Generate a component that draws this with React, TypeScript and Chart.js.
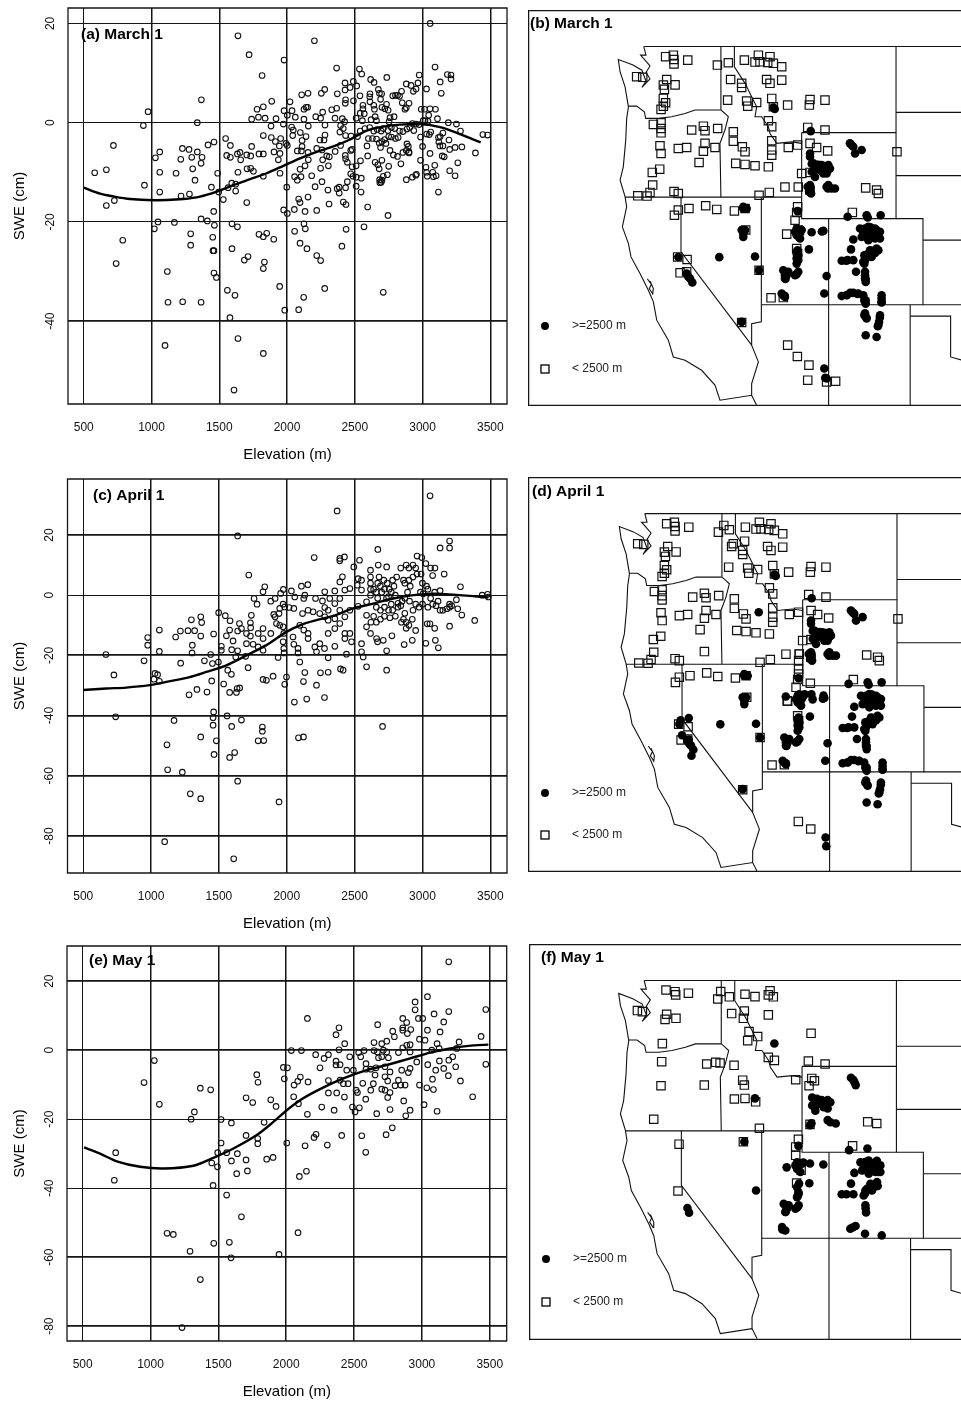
import React, { useEffect, useRef } from "react";
import { Chart, registerables } from "chart.js";

Chart.register(...registerables);

type P = number[];

const elevationTicks = [500, 1000, 1500, 2000, 2500, 3000, 3500];
const marchTicks = [20, 0, -20, -40];
const aprilTicks = [20, 0, -20, -40, -60, -80];
const mayTicks = [20, 0, -20, -40, -60, -80];
const marchSwe: P[] = [[581,-10.1],[667,-9.5],[719,-4.6],[667,-16.7],[726,-15.7],[788,-23.7],[739,-28.4],[940,-0.6],[975,2.2],[948,-12.6],[1029,-7.1],[1061,-5.9],[1061,-10],[1061,-14],[1021,-21.4],[1048,-20],[1117,-30],[1122,-36.2],[1100,-44.9],[1169,-20.1],[1181,-10.2],[1230,-36.1],[1216,-7.4],[1228,-5.2],[1218,-14.8],[1277,-5.4],[1280,-14.4],[1289,-22.4],[1289,-24.7],[1304,-9.3],[1297,-7],[1321,-11.6],[1338,0],[1368,4.6],[1338,-5.9],[1373,-7],[1366,-8.2],[1366,-19.4],[1366,-36.2],[1412,-19.8],[1417,-4.5],[1461,-3.9],[1442,-13],[1459,-17.9],[1464,-20.7],[1452,-23.1],[1454,-25.8],[1461,-25.8],[1461,-30.3],[1479,-31.2],[1488,-10.2],[1496,-14],[1530,-15.5],[1547,-3.2],[1555,-6.6],[1582,-4.6],[1582,-7],[1560,-33.8],[1579,-39.3],[1592,-12.2],[1565,-13.1],[1621,-12.4],[1621,-13.8],[1594,-20.4],[1634,-21],[1594,-25.4],[1616,-34.8],[1638,-43.5],[1609,-53.9],[1638,17.5],[1638,-10],[1634,-6.3],[1653,-6],[1658,-7.5],[1703,-6.5],[1703,-16.1],[1685,-27.7],[1712,-27],[1720,13.7],[1705,-9.3],[1732,-9.2],[1752,-9.8],[1739,-4.8],[1732,-6.7],[1739,0.7],[1779,2.7],[1789,1.1],[1816,9.5],[1825,3.2],[1838,0.9],[1825,-2.6],[1825,-6.3],[1793,-6.3],[1825,-10.8],[1793,-22.5],[1825,-23],[1850,-22.3],[1902,-23.5],[1833,-28.1],[1825,-29.4],[1825,-46.5],[1887,4.3],[1882,-0.7],[1919,0.8],[1884,-3],[1914,-3.8],[1904,-5.9],[1943,-4.7],[1948,-6.2],[1936,-7.5],[1948,-10.2],[1946,-33],[1973,-0.3],[1978,12.6],[1978,2.4],[1953,-3.2],[1992,-4.2],[2002,-4.6],[1998,-13],[1975,-17.6],[2002,-18.3],[1983,-37.8],[2022,4.2],[2037,2.4],[2002,1.5],[2061,1.1],[2034,-0.9],[2042,-2.6],[2046,-1.5],[2056,-10.9],[2076,-11.6],[2054,-17.5],[2056,-21.9],[2086,-15.4],[2096,-16.1],[2076,-5.7],[2106,-5.7],[2096,-9.4],[2103,-10.9],[2096,-24.3],[2086,-37.7],[2108,5.6],[2155,5.9],[2125,2.7],[2140,3.1],[2152,3.1],[2125,0.7],[2157,-0.7],[2098,-2],[2140,-2.8],[2111,-3.6],[2111,-4.8],[2155,-6],[2157,-7.5],[2133,-8.7],[2133,-17.9],[2155,-15],[2125,-20.4],[2135,-21.4],[2147,-25.4],[2123,-35.2],[2202,16.5],[2212,1.2],[2248,0.9],[2253,5.9],[2278,6.7],[2263,2.1],[2280,-0.5],[2243,-3.5],[2280,-2.5],[2273,-3.5],[2219,-5.2],[2258,-5.5],[2263,-7.5],[2182,-10.7],[2248,-9.2],[2207,-12.9],[2258,-11.9],[2305,-8.7],[2293,-6.7],[2312,-6.9],[2219,-17.7],[2302,-13.6],[2310,-16.4],[2219,-26.8],[2248,-27.8],[2278,-33.4],[2366,11],[2428,8],[2428,6.6],[2465,7.1],[2489,8.3],[2514,7.4],[2534,10.8],[2551,9.8],[2617,8.7],[2642,8.1],[2736,9.1],[2674,6.7],[2612,5.8],[2698,5.8],[2538,5.4],[2432,4.6],[2490,4.4],[2430,3.9],[2371,5.8],[2330,2.6],[2366,2.9],[2354,0.9],[2408,0.8],[2425,0.2],[2395,-0.6],[2415,-1.2],[2390,-1.9],[2432,-2.6],[2472,-2.7],[2395,-4.6],[2355,-5.8],[2430,-6.6],[2432,-7.3],[2445,-8],[2470,-5.6],[2480,-5.4],[2560,3.5],[2560,2.8],[2570,1.8],[2540,1.9],[2510,0.9],[2556,0.4],[2620,0.6],[2610,5.2],[2612,4.2],[2640,3.5],[2645,2.7],[2650,1.2],[2660,0.4],[2682,5.9],[2690,4.7],[2700,3.1],[2722,2.8],[2734,3.7],[2746,2.5],[2760,1],[2753,0.2],[2790,1.2],[2800,5.5],[2780,5.4],[2830,5.3],[2815,5.5],[2845,6.3],[2850,4],[2870,2.7],[2880,3],[2900,3.9],[2880,7.8],[2915,7.5],[2932,6.3],[2952,6.8],[2966,8],[2975,9.6],[3029,6.8],[3092,11.2],[3138,5.9],[3130,8.2],[3183,9.7],[3210,9.6],[3210,8.8],[3056,20],[2990,2.7],[3015,2.7],[3055,2.8],[3045,1.5],[3005,0.4],[3018,0.4],[3040,0.3],[3110,0.8],[3095,2.7],[3190,0],[3250,-0.3],[3280,-1.7],[2950,-0.3],[2925,-0.2],[2975,-0.4],[2905,-1],[2935,-1.6],[2885,-1.3],[2855,-1.8],[2830,-1.7],[2795,-1.2],[2770,-1],[2745,-1.6],[2710,-1.2],[2695,-1.7],[2665,-1.4],[2640,-1.7],[2610,-1],[2575,-1.2],[2540,-1.7],[2520,-2.8],[2600,-3.2],[2630,-3.2],[2660,-3.3],[2680,-4.1],[2700,-3.8],[2720,-3.4],[2750,-2.8],[2770,-2.9],[2800,-3.2],[2820,-3],[2590,-4.7],[2690,-5],[2730,-4.2],[2885,-4.3],[2895,-4.8],[2880,-5.6],[2900,-5.9],[2900,-6.1],[2855,-6],[2760,-5.6],[2785,-6.5],[2815,-6.8],[2595,-6.7],[2650,-8],[2700,-7.6],[2680,-9.3],[2670,-8.5],[2840,-8.3],[2542,-7.7],[2510,-8.7],[2480,-8.9],[2470,-10.3],[2487,-10.8],[2510,-11],[2548,-11.2],[2700,-11.6],[2710,-10.8],[2740,-10.5],[2750,-8.8],[2695,-12],[2683,-11.5],[2685,-12.1],[2880,-11.5],[2925,-11],[2950,-10.6],[2955,-10.4],[2510,-12.8],[2546,-14],[2595,-17],[2745,-18.7],[2568,-21],[2710,-34.2],[2445,-11.9],[2432,-13.1],[2385,-13],[2370,-13.3],[2385,-14.2],[2415,-16],[2435,-16.5],[2436,-21.5],[2405,-24.9],[2985,-2.9],[3030,-2.3],[3050,-2.4],[3060,-1.9],[3117,-3],[3120,-3.9],[3128,-4.7],[3150,-4.7],[3130,-2.8],[3150,-2.1],[3195,-3.5],[3200,-5.4],[3240,-5],[3290,-4.9],[3390,-6.1],[3445,-2.4],[3480,-2.5],[3260,-8.1],[3200,-9.7],[3240,-10.7],[3145,-6.7],[3055,-6.2],[3090,-8.6],[3160,-6.9],[3075,-10],[3080,-10.9],[3100,-10.7],[3025,-9],[3030,-10],[3035,-10.8],[3117,-14],[3000,-4.8],[2985,-7.6]];
const marchFit: P[] = [[500,-13.1],[620,-14.3],[726,-14.9],[842,-15.4],[965,-15.6],[1112,-15.6],[1235,-15.4],[1358,-14.9],[1481,-13.9],[1604,-12.6],[1727,-11.4],[1850,-10.2],[1973,-8.7],[2096,-7.2],[2219,-5.9],[2342,-4.8],[2465,-3.4],[2588,-1.6],[2711,-0.8],[2834,-0.4],[2981,-0.3],[3129,-0.9],[3276,-2.3],[3429,-4]];

const aprilSwe: P[] = [[667,-19.7],[726,-26.5],[739,-40.4],[948,-21.8],[975,-14.1],[975,-16.6],[1029,-26],[1048,-26.4],[1021,-27.9],[1061,-28.6],[1061,-11.6],[1061,-18.7],[1100,-81.9],[1117,-49.7],[1122,-58],[1169,-41.6],[1181,-13.9],[1216,-11.9],[1218,-22.6],[1230,-58.8],[1272,-11.8],[1280,-33.1],[1289,-66],[1304,-16.6],[1302,-19.2],[1297,-8.2],[1321,-11.8],[1338,-31.3],[1366,-7.2],[1373,-9.1],[1366,-13.6],[1366,-47.1],[1366,-67.6],[1393,-21.8],[1412,-32.2],[1439,-19.7],[1452,-22.7],[1461,-12.9],[1447,-28.5],[1461,-38.8],[1457,-40.7],[1457,-43.2],[1464,-52.9],[1481,-48.4],[1496,-22.2],[1498,-5.8],[1518,-17],[1518,-18.3],[1535,-29.5],[1547,-6.8],[1555,-13.5],[1582,-8.5],[1579,-11.6],[1604,-15.2],[1565,-24.9],[1592,-26.3],[1594,-18.1],[1579,-32.3],[1560,-40.1],[1594,-43.6],[1579,-53.9],[1616,-52.3],[1638,19.7],[1638,-61.8],[1624,-20.5],[1638,-18.5],[1634,-31],[1629,-32.3],[1653,-30.8],[1609,-87.6],[1666,-41.5],[1638,-11.9],[1651,-9.4],[1666,-11.1],[1703,-12.7],[1703,-16.1],[1715,-24.1],[1720,6.7],[1732,-13.6],[1732,-9.2],[1734,-10.8],[1739,-6.7],[1752,-16.3],[1697,-20.3],[1759,-1.1],[1781,-3],[1789,-12.7],[1789,-17.2],[1789,-48.4],[1830,-48.3],[1825,1.1],[1838,2.8],[1825,-11.1],[1825,-14.4],[1825,-18.3],[1825,-28],[1850,-28.3],[1820,-43.8],[1820,-45.2],[1882,-12.7],[1899,-26.9],[1943,-68.7],[1936,-20.7],[1882,-2],[1914,-1.1],[1904,-6.4],[1914,-7.2],[1924,-9.4],[1948,-10],[1948,-4.4],[1943,-6.1],[1975,1.9],[1955,0.6],[1973,-3],[1985,-3.9],[1973,-10.5],[1978,-12.7],[1973,-15.5],[1978,-17.7],[1980,-19.2],[1985,-29.6],[1998,-27.2],[2056,-35.5],[2034,1.4],[2059,-0.6],[2017,-4.1],[2052,-4.4],[2046,-13.9],[2052,-16.3],[2083,-17.7],[2083,-19.2],[2096,-22.2],[2086,-47.4],[2123,-47.1],[2108,3],[2155,3.5],[2133,0],[2125,-1.1],[2116,-6.1],[2096,-10],[2125,-11.6],[2157,-12.7],[2157,-14.4],[2133,-25.7],[2123,-28.7],[2147,-34.5],[2202,12.5],[2212,-1.1],[2157,-5],[2194,-5.5],[2207,-17.2],[2219,-18.8],[2243,-16.1],[2248,-25.8],[2219,-29.9],[2278,-34],[2278,-17.7],[2305,-20.8],[2305,-25.6],[2280,1.1],[2263,-1.9],[2280,-4.1],[2243,-6.1],[2280,-7.2],[2317,-1.1],[2305,-5],[2305,-8.3],[2305,-12.7],[2354,-17],[2371,28],[2391,12.2],[2391,11.4],[2425,12.7],[2410,6.1],[2391,4.4],[2354,1.4],[2354,-2.8],[2391,-1.1],[2428,1.7],[2465,2.2],[2391,-5],[2354,-7.8],[2391,-9.4],[2428,-7.2],[2465,-5],[2354,-11.1],[2428,-12.7],[2428,-14.4],[2465,-12.7],[2477,-15.5],[2440,-19.6],[2396,-24.5],[2415,-24.9],[2494,9.4],[2536,11.6],[2526,5.5],[2551,5],[2519,3.3],[2551,1.7],[2588,-2.2],[2526,-3.7],[2551,-16.1],[2551,-18.8],[2563,-20.5],[2588,-23.8],[2588,-6.7],[2588,-10.5],[2617,-12.7],[2662,-14.4],[2669,-15.5],[2711,-15],[2736,-18.5],[2736,-24.9],[2706,-43.6],[2671,15.2],[2617,8.3],[2674,10],[2736,9.4],[2617,6],[2617,4],[2617,2],[2617,0],[2640,2],[2660,1],[2670,4],[2680,6],[2670,-1],[2690,3],[2700,1],[2715,5],[2720,2],[2735,-1],[2740,4],[2755,2],[2770,1],[2780,5],[2790,3],[2800,0],[2810,6],[2770,-3],[2750,-5],[2720,-4],[2690,-5],[2660,-4],[2640,-7],[2620,-9],[2660,-9],[2690,-8],[2720,-7],[2760,-7.5],[2780,-5],[2820,-4],[2850,-2],[2870,-1],[2890,1],[2910,3],[2870,4],[2860,5],[2840,9],[2880,10],[2900,9],[2930,10],[2950,9],[2960,13],[2995,12.5],[3025,10.5],[3060,9],[3092,9],[2990,7],[2960,7],[2930,6],[2900,5],[3000,4],[3030,3],[3075,6.5],[3160,7],[3130,15.7],[3200,15.7],[3200,18],[3056,33],[3090,1],[3130,1.5],[3280,2.8],[3440,0],[3480,0.3],[3485,-0.6],[3250,-1.5],[3200,-3],[3200,-4],[3215,-3.5],[3150,-5],[3130,-5],[3115,-2],[3075,-3],[3040,-4],[3000,-3],[2975,-4],[2950,-3],[2930,-5],[2925,-8],[2900,-10],[2880,-9],[2860,-8],[2845,-9],[2880,-11],[2865,-16.4],[2925,-15],[2950,-11.7],[3025,-16],[3095,-15],[3117,-17.5],[3090,-11],[3055,-9.5],[3035,-9.5],[3200,-10.3],[3260,-4.5],[3290,-6.6],[3385,-8.4],[3180,-4.5],[2775,-13.5],[2840,-3.5],[2905,-2],[3005,0.5],[3040,2],[2985,1],[3060,-1],[3100,-3.5],[2870,-6],[2800,-7],[2820,-2.7],[2750,-0.5]];
const aprilFit: P[] = [[500,-31.5],[670,-31],[817,-30.7],[989,-29.9],[1112,-28.8],[1284,-27.2],[1407,-25.5],[1555,-23.3],[1702,-20],[1850,-16.6],[1998,-12.2],[2096,-10],[2219,-8.3],[2342,-6.9],[2489,-4.4],[2637,-2.8],[2784,-1.1],[2932,0],[3079,0.5],[3227,0.2],[3375,-0.3],[3485,-0.8]];

const maySwe: P[] = [[733,-37.7],[743,-29.7],[952,-9.4],[1028,-3],[1065,-15.7],[1122,-53.1],[1168,-53.4],[1232,-80.4],[1291,-58.3],[1299,-20],[1323,-17.9],[1367,-11],[1367,-66.5],[1443,-11.5],[1451,-32.7],[1461,-39.2],[1466,-56],[1493,-33.8],[1495,-29.7],[1520,-20.1],[1520,-26.9],[1561,-42],[1561,-29.7],[1581,-55.7],[1593,-60.2],[1596,-21.1],[1596,-32.1],[1635,-35.8],[1640,-30],[1670,-48.3],[1704,-13.8],[1704,-24.7],[1704,-31.8],[1714,-35],[1753,-15.2],[1783,-7.1],[1792,-9.3],[1790,-25.6],[1790,-27.1],[1837,-20.9],[1856,-31.6],[1903,-31.1],[1886,-14.4],[1925,-16.3],[1947,-59.2],[1979,-5],[2009,-5.1],[1986,-8.3],[2004,-26.9],[2038,-0.1],[2112,-0.1],[2058,-10.1],[2085,-9],[2104,-7.8],[2055,-13.5],[2090,-15.5],[2087,-52.9],[2097,-36.6],[2139,-27.7],[2149,-35.1],[2156,9.2],[2161,-9.2],[2156,-18.6],[2205,-25.3],[2220,-24.4],[2217,-1.3],[2249,-5.1],[2262,-16.5],[2279,-2.4],[2311,-1.3],[2303,-27.5],[2311,-8.8],[2311,-12.4],[2353,-17.4],[2367,4.5],[2389,6.5],[2389,0.1],[2367,-3.2],[2367,-4.3],[2397,-4.2],[2372,-12.4],[2397,-8.7],[2409,-24.7],[2431,1.9],[2429,-13.6],[2421,-9.7],[2446,-5.8],[2456,-9.7],[2468,-1.9],[2495,-5.8],[2488,-16.5],[2507,-17.9],[2515,-11.6],[2525,-12.3],[2539,-16.7],[2534,-0.7],[2549,-1.9],[2564,-9.6],[2557,-24.8],[2586,-29.6],[2574,-0.1],[2588,-3.9],[2588,-5.5],[2586,-14.2],[2623,-5.5],[2623,-11.6],[2642,-9.7],[2647,2.2],[2647,-0.1],[2655,-7.2],[2662,-5.1],[2667,-18.4],[2674,7.4],[2672,-0.5],[2680,-2.2],[2704,-1.9],[2704,-11.3],[2716,0],[2704,1.9],[2741,2.6],[2728,-4.8],[2728,-7.7],[2741,-0.5],[2753,-2.2],[2736,-24.5],[2728,-11.6],[2748,-8.9],[2748,-13.7],[2765,-6.3],[2765,-12.3],[2765,-17.2],[2782,-22.5],[2785,5.5],[2797,3.9],[2802,-10.3],[2827,-8.7],[2827,-0.7],[2851,-5.8],[2844,-10.1],[2859,9.2],[2859,6.5],[2859,0.7],[2866,-14.7],[2859,5.8],[2876,-10.1],[2881,-19],[2888,8],[2893,4.8],[2888,1.4],[2900,-6.5],[2913,-17.4],[2918,6],[2913,-0.5],[2913,-5.3],[2913,1.6],[2950,14],[2950,11.7],[2974,9.2],[3006,9.2],[2982,3.2],[2982,-10.1],[2962,-3.4],[3016,-15.8],[3023,2.9],[3036,-10.9],[3041,15.5],[3041,5.8],[3043,-4.2],[3073,0],[3078,-8.4],[3085,-11.4],[3090,10.5],[3102,-5.8],[3112,1.9],[3112,-17.7],[3127,0.5],[3129,-3.1],[3134,5.3],[3161,8.2],[3161,-5.3],[3198,25.6],[3198,11.2],[3198,-2.9],[3195,-7.4],[3227,-1.9],[3257,0.5],[3274,2.4],[3249,-4.8],[3284,-8.9],[3374,-13.5],[3436,4],[3471,11.8],[3471,-4.1]];
const mayFit: P[] = [[510,-28.2],[628,-30],[751,-32.2],[923,-33.8],[1095,-34.3],[1316,-33.5],[1463,-31.2],[1611,-28.5],[1783,-24.6],[1905,-20.8],[2004,-17.4],[2102,-14.5],[2249,-11.3],[2421,-8.2],[2593,-5.8],[2741,-4.3],[2913,-2.4],[3060,-0.7],[3208,0.5],[3380,1.4],[3490,1.6]];

const coastline: P[] = [[-122.76,49],[-122.6,48.6],[-123.0,48.6],[-122.3,48.1],[-122.6,47.8],[-122.3,47.5],[-122.9,47.1],[-122.6,47.4],[-122.9,47.9],[-123.6,48.15],[-124.65,48.4],[-124.52,47.83],[-124.15,47.13],[-123.9,46.2],[-124.03,45.66],[-124.1,44.65],[-124.28,43.41],[-124.52,42.79],[-124.15,42.02],[-124.03,41.55],[-124.35,40.62],[-123.9,39.84],[-123.71,39.22],[-123.04,38.45],[-122.42,37.67],[-122.05,37.13],[-121.8,36.28],[-120.94,35.35],[-120.57,34.57],[-119.7,34.42],[-118.47,33.95],[-117.48,33.26],[-117.11,32.56],[-114.76,32.79],[-114.39,32.33]];
const bayArea: P[] = [[-122.5,38.2],[-122.2,37.95],[-122.35,37.75],[-122.1,37.5],[-122.05,37.75],[-122.3,38.1]];
const columbiaRiver: P[] = [[-123.9,46.23],[-123.29,46.23],[-122.72,45.97],[-122.62,45.66],[-121.68,45.66],[-120.69,45.74],[-119.7,45.89],[-118.96,46.05],[-117.06,46.05]];
const idahoWest: P[] = [[-117.04,49],[-117.04,46.05],[-116.74,45.89],[-116.49,45.74],[-116.74,45.12],[-117.11,44.5],[-117.04,42]];
const idahoEast: P[] = [[-116.04,49],[-116.04,48.06],[-115.25,47.29],[-114.76,46.67],[-114.39,46.2],[-114.51,45.74],[-114.02,45.74],[-113.52,45.27],[-113.4,44.96],[-112.9,44.5],[-111.79,44.57],[-111.05,44.5]];
const latitude42: P[] = [[-124.15,42],[-111.05,42]];
const nevadaWest: P[] = [[-120,42],[-120,39.46],[-114.76,35.12]];
const nevadaEast: P[] = [[-114.04,42],[-114.04,36.2],[-114.76,36.12],[-114.76,35.12],[-114.26,34.34],[-114.76,33.33],[-114.76,32.79]];
const wyoming: P[] = [[-111.05,45],[-104.05,45],[-104.05,41],[-111.05,41],[-111.05,45]];
const coloradoBox: P[] = [[-104.05,41],[-102.05,41],[-102.05,37],[-109.05,37],[-109.05,41]];
const latitude37: P[] = [[-114.04,37],[-109.05,37]];
const fourCornersSouth: P[] = [[-109.05,37],[-109.05,32.2]];
const newMexicoEast: P[] = [[-103,37],[-103,32.2]];
const latitude37East: P[] = [[-102.05,37],[-99,37]];
const panhandle: P[] = [[-103,36.47],[-100,36.47],[-100,34.57],[-99,34.39]];
const montanaNorth: P[] = [[-122.76,49],[-99,49]];
const montanaEast: P[] = [[-104.05,49],[-104.05,45]];
const dakotaSplit: P[] = [[-104.05,45.94],[-99,45.94]];
const dakotaSouth: P[] = [[-104.05,43],[-99,43]];
const kansasNorth: P[] = [[-102.05,40],[-99,40]];

const stateLines = [coastline, bayArea, columbiaRiver, idahoWest, idahoEast, latitude42, nevadaWest, nevadaEast, wyoming, coloradoBox, latitude37, fourCornersSouth, newMexicoEast, latitude37East, panhandle, montanaNorth, montanaEast, dakotaSplit, dakotaSouth, kansasNorth];

const sharedSquares: P[] = [[-121.14,48.53],[-120.57,48.6],[-120.52,48.4],[-120.52,48.19],[-119.5,48.37],[-123.29,47.6],[-122.84,47.57],[-121.06,47.47],[-121.31,47.21],[-121.23,47.01],[-120.44,47.22],[-121.31,46.59],[-121.14,46.39],[-121.48,46.08],[-121.31,46.23],[-117.3,48.14],[-116.49,48.25],[-115.3,48.37],[-114.51,48.28],[-114.26,48.6],[-114.14,48.29],[-113.57,48.26],[-113.4,48.53],[-113.15,48.22],[-112.53,48.06],[-116.32,47.47],[-115.5,47.29],[-115.5,47.1],[-113.65,47.47],[-113.4,47.29],[-112.53,47.44],[-116.54,46.51],[-115.13,46.47],[-115.05,46.23],[-114.39,46.4],[-113.27,46.59],[-113.15,46.2],[-112.09,46.28],[-110.43,46.54],[-110.48,46.28],[-109.32,46.51],[-110.6,45.24],[-109.32,45.12],[-122.05,45.38],[-121.48,45.46],[-121.48,45.19],[-121.48,44.99],[-119.21,45.12],[-118.34,45.3],[-118.22,45.09],[-117.28,45.19],[-116.12,45.04],[-116.12,44.6],[-113.52,45.55],[-113.27,45.27],[-113.27,44.62],[-113.27,44.19],[-113.27,43.95],[-112.04,44.31],[-111.35,44.42],[-110.43,44.5],[-109.94,44.31],[-109.12,44.15],[-121.56,44.39],[-121.48,44.03],[-120.2,44.26],[-119.58,44.31],[-118.22,44.5],[-118.34,44.14],[-117.48,44.31],[-118.66,43.61],[-121.58,43.3],[-122.13,43.15],[-115.45,44.34],[-115.25,44.11],[-115.94,43.57],[-115.25,43.52],[-114.51,43.46],[-113.52,43.41],[-111.05,43.1],[-110.43,43.15],[-122.1,42.56],[-122.3,42.22],[-123.21,42.06],[-122.52,42.05],[-120.52,42.26],[-120.2,42.17],[-114.21,42.09],[-113.45,42.22],[-112.29,42.47],[-111.3,42.47],[-110.43,42.33],[-106.3,42.43],[-105.49,42.33],[-105.36,42.17],[-103.98,44.11],[-107.29,41.29],[-120.49,41.16],[-120.2,41.4],[-119.41,41.47],[-118.17,41.6],[-117.35,41.43],[-116.04,41.36],[-115.25,41.47],[-115.2,40.47],[-120.25,39.22],[-119.55,39.1],[-120.07,38.48],[-119.58,38.53],[-115.5,36.17],[-114.21,38.6],[-111.35,41.55],[-111.42,41.29],[-111.54,40.93],[-112.16,40.28],[-111.3,40.47],[-111.42,39.61],[-111.35,39.38],[-113.32,37.32],[-112.41,37.33]];
const marchOnlySquares: P[] = [[-112.09,35.12],[-111.37,34.59],[-110.51,34.19],[-110.6,33.49],[-109.2,33.41],[-108.53,33.44]];
const aprilOnlySquares: P[] = [[-118.34,42.59],[-110.48,41.12],[-111.3,42.48],[-111.35,42.17],[-111.35,41.78],[-116.2,47.6],[-115.36,47.72],[-111.37,34.7],[-110.45,34.35],[-112.2,40.3],[-116.9,48.45]];
const sharedCircles: P[] = [[-110.38,45.07],[-107.47,44.5],[-107.35,44.42],[-107.22,44.34],[-107.09,44.03],[-106.6,44.19],[-113.15,46.17],[-113.05,46.1],[-110.43,44.03],[-110.18,43.57],[-110.06,43.26],[-110.1,43.45],[-109.57,43.49],[-109.8,43.5],[-109.07,43.49],[-109.35,43.45],[-109.2,43.1],[-109.1,43.25],[-110.43,42.56],[-110.5,42.25],[-110.4,42.4],[-109.2,42.48],[-109.1,42.4],[-108.58,42.4],[-107.64,41.09],[-106.23,41.16],[-106.15,41.05],[-105.19,41.16],[-111.35,41.35],[-111.3,40.47],[-111.25,40.15],[-111.4,40.3],[-111.15,40.35],[-110.31,40.37],[-109.44,40.43],[-109.55,40.4],[-110.51,39.57],[-115.38,41.47],[-115.2,41.47],[-115.38,40.31],[-115.3,40.45],[-117.16,39.21],[-114.51,39.24],[-114.21,38.6],[-120.2,39.22],[-119.58,38.45],[-119.45,38.3],[-119.33,38.22],[-119.16,38.03],[-115.5,36.2],[-112.29,38.37],[-112.2,38.5],[-112.25,38.2],[-111.42,38.42],[-109.2,38.33],[-109.37,37.52],[-112.41,37.44],[-112.3,37.4],[-111.35,39.53],[-111.42,39.15],[-111.3,39.3],[-106.35,40.54],[-105.95,40.6],[-105.49,40.47],[-105.7,40.3],[-106.23,40.15],[-105.36,40.15],[-105.4,40.35],[-107.22,40.03],[-107.39,39.57],[-108.08,39.04],[-107.75,39.04],[-107.22,39.07],[-106.35,39.07],[-106.4,39.3],[-106.1,39.38],[-105.8,39.5],[-105.36,39.53],[-106.4,38.9],[-105.6,39.4],[-107.02,38.53],[-106.35,38.37],[-106.3,38.2],[-106.3,38.06],[-108.08,37.4],[-107.7,37.45],[-107.45,37.55],[-107.22,37.55],[-106.9,37.5],[-106.48,37.44],[-106.3,37.2],[-106.3,37.05],[-105.12,37.29],[-105.12,37.1],[-106.4,36.51],[-106.25,36.4],[-105.31,36.2],[-105.25,36.4],[-105.4,36],[-106.3,35.58],[-105.49,35.5],[-115.5,40.47],[-115.25,40.47],[-115.38,40.15],[-115.38,41.55],[-115.13,41.47],[-110.43,43.88],[-110.35,42.17],[-110.6,42.48],[-109.07,42.56],[-108.83,42.4],[-107.64,39.07],[-106.35,38.22],[-107.71,37.44],[-106.85,37.52],[-106.4,37.2],[-105.12,37.44],[-105.12,37.13],[-106.35,36.6],[-106.23,36.36],[-105.24,36.51],[-105.36,36.05]];
const blobCircles: P[] = [[-110.3,43.55],[-109.94,43.49],[-109.69,43.26],[-110.3,43.18],[-110.06,42.94],[-109.32,43.33],[-109.44,43.1],[-108.95,43.33],[-106.72,40.54],[-106.48,40.39],[-106.11,40.62],[-105.86,40.39],[-105.61,40.54],[-105.24,40.39],[-106.6,40.15],[-105.98,40.23],[-105.61,40.08],[-105.24,40.08],[-106.1,40],[-106.48,38.99],[-106.23,39.3],[-105.98,39.53],[-105.73,39.38],[-105.49,39.61],[-106.35,39.22],[-105.86,39.22],[-106.35,38.53],[-111.42,40.54],[-111.05,40.47],[-111.42,40.23],[-111.17,40.08],[-111.54,40.39],[-111.42,39.38],[-111.3,39.07],[-111.42,38.91],[-112.41,38.6],[-112.04,38.53],[-112.29,38.22],[-112.16,38.37],[-111.54,38.37],[-111.3,38.53],[-112.53,37.52],[-112.29,37.36]];
const marchOnlyCircles: P[] = [[-109.37,34.03],[-109.2,33.57],[-109.3,33.6]];
const aprilOnlyCircles: P[] = [[-114.31,44.42],[-119.3,37.75],[-111.3,40.6],[-110.9,40.6],[-110.4,40.6],[-109.5,40.55],[-119.5,39.5],[-120,38.7],[-119.5,38.5],[-120.1,39.4],[-109.35,33.95],[-109.3,33.55],[-112.3,40.5]];
const maySquares: P[] = [[-121.14,48.56],[-120.47,48.48],[-120.42,48.33],[-119.48,48.41],[-123.26,47.6],[-122.89,47.55],[-121.09,47.43],[-121.21,47.19],[-120.4,47.24],[-121.41,46.06],[-121.46,45.22],[-121.51,44.1],[-122.05,42.54],[-118.12,45.11],[-117.45,45.19],[-117.13,45.16],[-116.09,45.05],[-118.3,44.13],[-117.08,48.49],[-117.3,48.14],[-116.44,48.24],[-115.28,48.36],[-114.54,48.25],[-113.55,48.33],[-113.18,48.24],[-113.42,48.52],[-116.27,47.46],[-115.33,47.58],[-115.4,47.24],[-113.55,47.4],[-114.98,46.62],[-114.34,46.39],[-115.08,46.2],[-110.38,46.54],[-113.55,45.42],[-113.1,45.28],[-110.58,45.25],[-109.34,45.11],[-111.52,44.38],[-110.33,44.44],[-110.13,44.33],[-110.53,44.1],[-115.45,44.36],[-115.33,44.13],[-116.07,43.48],[-115.28,43.51],[-114.49,43.35],[-114.21,42.12],[-120.17,41.38],[-120.25,39.2],[-115.4,41.49],[-106.18,42.42],[-105.51,42.34],[-110.46,42.3],[-111.32,41.61],[-111.52,41.25],[-111.52,40.86],[-111.12,40.16],[-111.45,39.57],[-107.3,41.3]];
const mayCircles: P[] = [[-113.1,46.07],[-114.54,43.51],[-107.42,44.47],[-107.24,44.36],[-107.07,44.13],[-107.15,44.25],[-110.09,43.43],[-110.09,43.12],[-109.6,43.43],[-109.15,43.43],[-109.15,43.04],[-110,43.25],[-109.25,43.25],[-109.15,42.5],[-108.55,42.34],[-108.95,42.4],[-110.46,42.26],[-110.35,42.35],[-115.33,41.49],[-114.46,39.22],[-119.55,38.41],[-119.43,38.19],[-111.32,41.3],[-112.19,40.3],[-111.45,40.43],[-111.2,40.5],[-110.95,40.52],[-110.46,40.48],[-109.47,40.43],[-110.51,39.56],[-111.27,39.54],[-111.32,39.15],[-111.37,38.97],[-112.19,38.53],[-112.26,38.22],[-112.22,38.35],[-111.4,38.44],[-112.51,37.41],[-107.56,41.1],[-106.2,41.18],[-106.38,40.55],[-106.1,40.5],[-105.76,40.4],[-105.39,40.4],[-105.5,40.6],[-106.25,40.16],[-106.1,40.3],[-105.39,40.09],[-105.8,40.2],[-107.17,40.04],[-107.42,39.54],[-108.11,39.05],[-107.75,39.05],[-107.24,39.05],[-106.38,39.08],[-106.25,39.2],[-106,39.39],[-105.7,39.45],[-105.44,39.43],[-106.33,38.38],[-106.3,38.2],[-107.47,37.44],[-107.08,37.57],[-107.3,37.5],[-106.38,37.21],[-105.14,37.13]];

const FONT = "'Liberation Sans', Arial, sans-serif";
const INK = "#151515";

type Note = { text: string; x: number; y: number; size: number; bold?: boolean };

function notesPlugin(notes: Note[], legendAt?: { x: number; tx: number; y1: number; y2: number }) {
  return {
    id: "panelNotes",
    afterDraw(chart: any) {
      const { ctx, chartArea: a } = chart;
      ctx.save();
      ctx.strokeStyle = INK;
      ctx.lineWidth = 1.3;
      ctx.beginPath();
      if (legendAt) {
        ctx.moveTo(a.right, a.top + 0.6);
        ctx.lineTo(a.left + 0.6, a.top + 0.6);
        ctx.lineTo(a.left + 0.6, a.bottom - 0.6);
        ctx.lineTo(a.right, a.bottom - 0.6);
      } else {
        ctx.rect(a.left, a.top, a.right - a.left, a.bottom - a.top);
      }
      ctx.stroke();
      ctx.fillStyle = "#000";
      ctx.textBaseline = "middle";
      ctx.textAlign = "left";
      for (const n of notes) {
        ctx.font = `${n.bold ? "bold " : ""}${n.size}px ${FONT}`;
        ctx.fillText(n.text, n.x, n.y);
      }
      if (legendAt) {
        ctx.font = `12px ${FONT}`;
        ctx.fillStyle = "#222";
        ctx.fillText(">=2500 m", legendAt.tx, legendAt.y1);
        ctx.fillText("< 2500 m", legendAt.tx, legendAt.y2);
        ctx.fillStyle = "#000";
        ctx.beginPath();
        ctx.arc(legendAt.x, legendAt.y1, 4, 0, Math.PI * 2);
        ctx.fill();
        ctx.strokeStyle = "#000";
        ctx.lineWidth = 1.3;
        ctx.strokeRect(legendAt.x - 4, legendAt.y2 - 4, 8, 8);
      }
      ctx.restore();
    },
  };
}

const toXY = (rows: P[]) => rows.map(([x, y]) => ({ x, y }));

type ScatterCfg = {
  points: P[]; fit: P[]; top: number; plotTop: number; plotBottom: number; left: number; right: number;
  xMin: number; xMax: number; yMin: number; yMax: number; yTicks: number[]; yThick: number[]; label: Note;
};

function scatterChart(canvas: HTMLCanvasElement, c: ScatterCfg) {
  return new Chart(canvas, {
    type: "scatter",
    data: {
      datasets: [
        { data: toXY(c.fit), showLine: true, pointRadius: 0, borderColor: "#000", borderWidth: 2.4, tension: 0.3 },
        { data: toXY(c.points), pointRadius: 2.8, pointStyle: "circle", pointBackgroundColor: "rgba(255,255,255,0)", pointBorderColor: "#111", pointBorderWidth: 1.1 },
      ],
    },
    options: {
      animation: false, responsive: false, devicePixelRatio: 1,
      layout: { autoPadding: false, padding: { top: c.plotTop - c.top, right: 520 - c.right, left: 0, bottom: 0 } },
      plugins: { legend: { display: false }, tooltip: { enabled: false } },
      scales: {
        x: {
          type: "linear", min: c.xMin, max: c.xMax,
          afterBuildTicks: (s: any) => { s.ticks = elevationTicks.map((value) => ({ value })); },
          afterFit: (s: any) => { s.height = 66; s.paddingLeft = 0; s.paddingRight = 0; },
          border: { display: false },
          grid: { color: INK, drawTicks: false, lineWidth: (ctx: any) => (ctx.tick && ctx.tick.value === 500 ? 1 : 1.5) },
          ticks: { padding: 16, color: "#111", maxRotation: 0, autoSkip: false, font: { family: FONT, size: 12 }, callback: (v: any) => String(v) },
          title: { display: true, text: "Elevation (m)", color: "#000", padding: { top: 0, bottom: 6.6 }, font: { family: FONT, size: 15 } },
        },
        y: {
          type: "linear", min: c.yMin, max: c.yMax,
          afterBuildTicks: (s: any) => { s.ticks = c.yTicks.map((value) => ({ value })); },
          afterFit: (s: any) => { s.width = c.left; s.paddingTop = 0; s.paddingBottom = 0; },
          border: { display: false },
          grid: { color: INK, drawTicks: false, lineWidth: (ctx: any) => (ctx.tick && c.yThick.includes(ctx.tick.value) ? 1.8 : 1) },
          ticks: { padding: 9, crossAlign: "center", minRotation: 90, maxRotation: 90, autoSkip: false, color: "#111", font: { family: FONT, size: 12 }, callback: (v: any) => String(v) },
          title: { display: true, text: "SWE (cm)", color: "#000", padding: { top: 11, bottom: 0 }, font: { family: FONT, size: 15 } },
        },
      },
    } as any,
    plugins: [notesPlugin([c.label])] as any,
  });
}

type MapCfg = { circles: P[]; squares: P[]; xMin: number; xMax: number; yMin: number; yMax: number; label: Note; y1: number; y2: number };

function mapChart(canvas: HTMLCanvasElement, c: MapCfg) {
  return new Chart(canvas, {
    type: "scatter",
    data: {
      datasets: [
        { data: toXY(c.circles), pointRadius: 4.3, pointStyle: "circle", pointBackgroundColor: "#000", pointBorderColor: "#000", pointBorderWidth: 0 },
        { data: toXY(c.squares), pointRadius: 5.9, pointStyle: "rect", pointBackgroundColor: "rgba(255,255,255,0)", pointBorderColor: "#111", pointBorderWidth: 1.2 },
        ...stateLines.map((line) => ({ data: toXY(line), showLine: true, pointRadius: 0, borderColor: "#111", borderWidth: 1.1, tension: 0 })),
      ],
    },
    options: {
      animation: false, responsive: false, devicePixelRatio: 1,
      layout: { autoPadding: false, padding: 0 },
      plugins: { legend: { display: false }, tooltip: { enabled: false } },
      scales: {
        x: { type: "linear", display: false, min: c.xMin, max: c.xMax },
        y: { type: "linear", display: false, min: c.yMin, max: c.yMax },
      },
    } as any,
    plugins: [notesPlugin([c.label], { x: 17, tx: 44, y1: c.y1, y2: c.y2 })] as any,
  });
}

const box = (left: number, top: number): React.CSSProperties => ({ position: "absolute", left, top });

export default function App() {
  const refs = useRef<(HTMLCanvasElement | null)[]>([]);
  useEffect(() => {
    const r = refs.current as HTMLCanvasElement[];
    const charts = [
      scatterChart(r[0], { points: marchSwe, fit: marchFit, top: 0, plotTop: 8, plotBottom: 404, left: 68, right: 507, xMin: 384, xMax: 3623, yMin: -56.7, yMax: 23.1, yTicks: marchTicks, yThick: [-40], label: { text: "(a) March 1", x: 81, y: 35, size: 15.5, bold: true } }),
      mapChart(r[1], { circles: sharedCircles.concat(blobCircles, marchOnlyCircles), squares: sharedSquares.concat(marchOnlySquares), xMin: -131.35, xMax: -99.23, yMin: 32.29, yMax: 50.7, label: { text: "(b) March 1", x: 2, y: 14, size: 15.5, bold: true }, y1: 316, y2: 359 }),
      scatterChart(r[2], { points: aprilSwe, fit: aprilFit, top: 471, plotTop: 479, plotBottom: 873, left: 67.5, right: 507, xMin: 384, xMax: 3623, yMin: -92.3, yMax: 38.6, yTicks: aprilTicks, yThick: [20, -20, -40, -60, -80], label: { text: "(c) April 1", x: 93, y: 25, size: 15.5, bold: true } }),
      mapChart(r[3], { circles: sharedCircles.concat(blobCircles, aprilOnlyCircles), squares: sharedSquares.concat(aprilOnlySquares), xMin: -131.43, xMax: -99.3, yMin: 32.35, yMax: 50.7, label: { text: "(d) April 1", x: 4, y: 15, size: 15.5, bold: true }, y1: 316, y2: 358 }),
      scatterChart(r[4], { points: maySwe, fit: mayFit, top: 938, plotTop: 946, plotBottom: 1341, left: 67, right: 506.7, xMin: 384.3, xMax: 3625, yMin: -84.3, yMax: 30.2, yTicks: mayTicks, yThick: [20, 0, -60, -80], label: { text: "(e) May 1", x: 89, y: 23, size: 15.5, bold: true } }),
      mapChart(r[5], { circles: mayCircles.concat(blobCircles), squares: maySquares, xMin: -131.3, xMax: -99.26, yMin: 32.26, yMax: 50.7, label: { text: "(f) May 1", x: 12, y: 14, size: 15.5, bold: true }, y1: 315, y2: 358 }),
    ];
    return () => charts.forEach((c) => c.destroy());
  }, []);
  const layout = [
    { l: 0, t: 0, w: 520, h: 470 },
    { l: 528, t: 10, w: 433, h: 396 },
    { l: 0, t: 471, w: 520, h: 468 },
    { l: 528, t: 477, w: 433, h: 395 },
    { l: 0, t: 938, w: 520, h: 469 },
    { l: 529, t: 944, w: 432, h: 396 },
  ];
  return (
    <div style={{ position: "absolute", left: 0, top: 0, width: 961, height: 1402, overflow: "hidden", background: "#fff" }}>
      {layout.map((b, i) => (
        <canvas key={i} ref={(el) => { refs.current[i] = el; }} width={b.w} height={b.h} style={{ ...box(b.l, b.t), width: b.w, height: b.h }} />
      ))}
    </div>
  );
}
